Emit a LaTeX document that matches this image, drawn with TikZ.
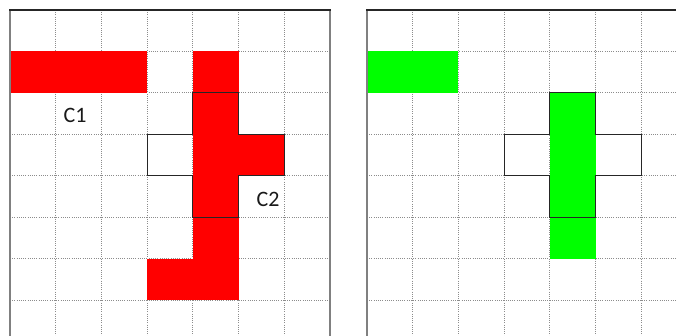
\documentclass[tikz,border=0pt]{standalone}
\usepackage{fontspec}
\setmainfont{Carlito}
\begin{document}
\begin{tikzpicture}[x=1pt,y=1pt,
  gridline/.style={draw=black!45, line width=0.8pt, dash pattern=on 1pt off 1.2pt},
  sideborder/.style={draw=black!50, line width=2pt},
  topborder/.style={draw=black!85, line width=1.5pt},
  crossline/.style={draw=black!85, line width=1.2pt, line join=miter},
  redcell/.style={fill=red},
  greencell/.style={fill=green},
  lbl/.style={font=\fontsize{22}{22}\selectfont, inner sep=0pt, text=black!90}]
\useasboundingbox (0,0) rectangle (676,-336);
\clip (0,0) rectangle (676,-336);
% ---------- left grid ----------
\begin{scope}[xshift=10pt, yshift=-10pt, x=45.714pt, y=-41.43pt]
  \foreach \i in {1,...,6} \draw[gridline] (\i,0) -- (\i,8);
  \foreach \j in {1,...,7} \draw[gridline] (0,\j) -- (7,\j);
  \foreach \c/\r in {0/1,1/1,2/1,4/1,4/2,4/3,5/3,4/4,4/5,3/6,4/6}
    \fill[redcell] (\c,\r) rectangle ++(1,1);
  \draw[crossline] (4,2) -- (5,2) -- (5,3) -- (6,3) -- (6,4) -- (5,4) -- (5,5) -- (4,5) -- (4,4) -- (3,4) -- (3,3) -- (4,3) -- cycle;
  \draw[sideborder] (0,0) -- (0,8);
  \draw[sideborder] (7,0) -- (7,8);
  \draw[topborder] (-0.02,0) -- (7.02,0);
\end{scope}
% ---------- right grid ----------
\begin{scope}[xshift=367pt, yshift=-10pt, x=45.714pt, y=-41.43pt]
  \foreach \i in {1,...,6} \draw[gridline] (\i,0) -- (\i,8);
  \foreach \j in {1,...,7} \draw[gridline] (0,\j) -- (7,\j);
  \foreach \c/\r in {0/1,1/1,4/2,4/3,4/4,4/5}
    \fill[greencell] (\c,\r) rectangle ++(1,1);
  \draw[crossline] (4,2) -- (5,2) -- (5,3) -- (6,3) -- (6,4) -- (5,4) -- (5,5) -- (4,5) -- (4,4) -- (3,4) -- (3,3) -- (4,3) -- cycle;
  \draw[sideborder] (0,0) -- (0,8);
  \draw[topborder] (-0.02,0) -- (7.5,0);
\end{scope}
% ---------- labels ----------
\node[lbl] (c1) at (75,-115.5) {C1};
\node[lbl] (c2) at (268,-199.5) {C2};
\end{tikzpicture}
\end{document}
